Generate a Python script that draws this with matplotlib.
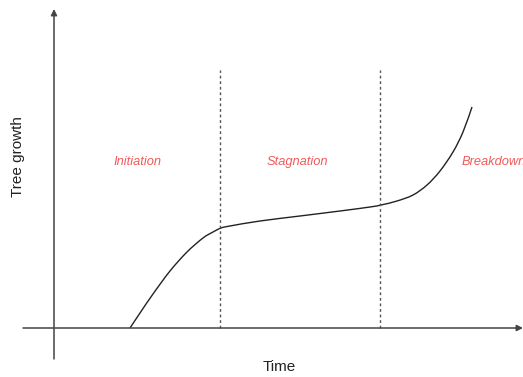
import matplotlib
matplotlib.use("Agg")
import matplotlib.pyplot as plt
from matplotlib.path import Path
from matplotlib.patches import PathPatch

plt.rcParams['font.family'] = ['Liberation Sans', 'DejaVu Sans']

# Growth curve (time vs tree growth, arbitrary units; origin at axis crossing)
time = [76, 86, 99, 116, 133, 149, 159, 167, 176, 206, 246, 286, 316, 327,
        343, 359, 373, 386, 399, 409, 418]
growth = [0, 15, 34, 57, 76, 90, 96, 100, 102, 107, 112, 117, 121, 123,
          127, 133, 143, 157, 176, 196, 221]

phase_bounds = [166, 326]
phase_names = ["Initiation", "Stagnation", "Breakdown"]

fig = plt.figure(figsize=(5.23, 3.77), dpi=100)
ax = fig.add_axes([0, 0, 1, 1])
ax.set_xlim(-54, 469)
ax.set_ylim(-49, 328)
ax.axis('off')

axis_col = '#444444'
ax.annotate('', xy=(469, 0), xytext=(-31, 0),
            arrowprops=dict(arrowstyle='-|>', color=axis_col, lw=1.1,
                            mutation_scale=9, shrinkA=0, shrinkB=0))
ax.annotate('', xy=(0, 319), xytext=(0, -31),
            arrowprops=dict(arrowstyle='-|>', color=axis_col, lw=1.1,
                            mutation_scale=9, shrinkA=0, shrinkB=0))

for b in phase_bounds:
    ax.plot([b, b], [0, 258], color='#555555', lw=1.0, ls=(0, (2, 2)))

# smooth curve through the read points (Catmull-Rom as cubic Bezier segments)
pts = list(zip(time, growth))
verts = [pts[0]]
codes = [Path.MOVETO]
n = len(pts)
for i in range(n - 1):
    p0 = pts[i - 1] if i > 0 else pts[i]
    p1 = pts[i]
    p2 = pts[i + 1]
    p3 = pts[i + 2] if i + 2 < n else pts[i + 1]
    c1 = (p1[0] + (p2[0] - p0[0]) / 6, p1[1] + (p2[1] - p0[1]) / 6)
    c2 = (p2[0] - (p3[0] - p1[0]) / 6, p2[1] - (p3[1] - p1[1]) / 6)
    verts += [c1, c2, p2]
    codes += [Path.CURVE4] * 3
ax.add_patch(PathPatch(Path(verts, codes), facecolor='none',
                       edgecolor='#222222', lw=1.0))

label_col = '#f05a5a'
ax.text(83, 166, phase_names[0], color=label_col, fontsize=9.3, style='italic',
        ha='center', va='center')
ax.text(243, 166, phase_names[1], color=label_col, fontsize=9.3, style='italic',
        ha='center', va='center')
ax.text(408, 166, phase_names[2], color=label_col, fontsize=9.3, style='italic',
        ha='left', va='center')

ax.text(225, -39, 'Time', fontsize=11, ha='center', va='center', color='#222222')
ax.text(-36, 171, 'Tree growth', fontsize=11, ha='center', va='center',
        rotation=90, color='#222222')

fig.savefig('out.png', dpi=100)
